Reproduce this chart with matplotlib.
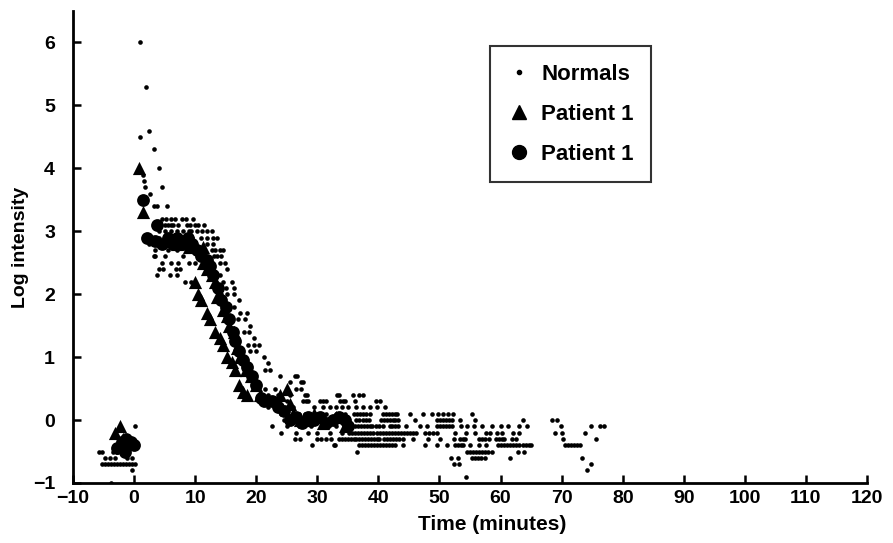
import matplotlib
matplotlib.use("Agg")
import matplotlib.pyplot as plt
from matplotlib.lines import Line2D

plt.rcParams['font.family'] = ['Liberation Sans', 'DejaVu Sans']

# ---------------- data ----------------
# Normals: rows of (log intensity, [time values])
rows_pre = [
    (-0.1, [0.2]),
    (-0.4, [0.2]),
    (-0.5, [-5.8, -5.3, -3.5, -2.8]),
    (-0.6, [-4.7, -3.9, -3.1, -1.2, -0.4]),
    (-0.7, [-5.3, -4.8, -4.3, -3.8, -3.3, -2.8, -2.3, -1.8, -1.3, -0.8, -0.3, 0.2]),
    (-0.8, [-0.4]),
    (-1.0, [-3.7]),
]

rows_peak = [
    (6.0, [1.0]),
    (5.3, [2.0]),
    (4.6, [2.5]),
    (4.5, [1.0]),
    (4.3, [3.3]),
    (4.0, [4.0]),
    (3.9, [1.5]),
    (3.8, [1.7]),
    (3.7, [1.8, 4.5]),
    (3.6, [2.6]),
    (3.4, [3.2, 3.7, 5.4]),
    (3.2, [4.5, 5.2, 6.0, 6.7, 7.8, 8.5, 9.7]),
    (3.1, [3.5, 4.2, 5.1, 5.6, 6.0, 6.4, 7.2, 8.6, 9.2, 10.0, 10.5, 11.5]),
    (3.0, [4.0, 5.0, 6.0, 7.0, 8.0, 9.0, 9.4, 10.3, 11.1, 11.9, 12.7]),
    (2.9, [3.0, 4.0, 5.0, 6.5, 8.0, 9.5, 11.0, 12.0, 13.0, 13.6]),
    (2.8, [2.5, 3.5, 5.0, 6.0, 7.0, 8.0, 9.0, 10.0, 12.0, 13.0]),
    (2.7, [3.5, 5.5, 7.0, 9.0, 11.0, 12.7, 13.3, 14.1, 14.6]),
    (2.6, [3.2, 3.4, 5.0, 8.0, 13.1, 13.6, 14.3]),
    (2.5, [4.5, 6.0, 7.2, 9.0, 10.0, 14.1, 14.9]),
    (2.4, [4.0, 4.8, 6.8, 7.6, 15.2]),
    (2.3, [3.7, 5.9, 7.0, 14.0]),
    (2.2, [8.4, 9.4, 14.6, 16.0]),
    (2.1, [15.0, 16.3]),
    (2.0, [14.3, 15.2, 16.3]),
    (1.9, [17.1]),
    (1.8, [15.5, 16.3]),
    (1.7, [17.4, 18.5]),
    (1.6, [17.0, 18.2]),
    (1.5, [19.0]),
    (1.4, [18.0, 18.8]),
    (1.3, [19.6]),
    (1.2, [18.7, 19.6, 20.4]),
    (1.1, [19.0, 19.9]),
    (1.0, [21.2]),
    (0.9, [22.0]),
    (0.8, [21.5, 22.3]),
    (0.7, [23.9, 26.3, 26.6]),
    (0.6, [25.5, 27.4, 27.7]),
    (0.5, [21.5, 23.0, 26.5, 27.3]),
]

rows_decay = [
    (0.4, [20.5, 22.0, 23.5, 25.5, 28.0, 28.3, 33.3, 33.5, 35.9, 36.8, 37.4]),
    (0.3, [21.0, 23.0, 25.0, 27.7, 28.1, 28.5, 30.5, 31.0, 31.4, 33.7, 34.2, 34.6,
           36.2, 39.6, 40.2]),
    (0.2, [22.0, 24.0, 26.0, 29.4, 31.0, 32.0, 33.0, 34.0, 35.0, 36.3, 37.4, 38.6,
           39.8, 41.1]),
    (0.1, [24.0, 25.0, 27.0, 28.0, 30.0, 31.5, 33.0, 34.5, 36.0, 36.5, 37.0, 37.5,
           38.0, 38.7, 40.7, 41.2, 41.7, 42.2, 42.7, 43.1, 45.2, 47.3, 48.8, 49.8,
           50.6, 51.4, 52.2, 55.3]),
    (0.0, [24.5, 26.0, 27.5, 29.0, 30.5, 32.0, 33.5, 35.0, 36.3, 36.8, 37.4, 37.9,
           38.5, 40.4, 40.9, 41.4, 41.9, 42.4, 42.8, 43.2, 46.0, 49.6, 50.1, 50.6,
           51.1, 51.6, 52.1, 53.4, 55.8, 63.7, 68.4, 69.3]),
]

rows_tail = [
    (-0.1, [22.6, 25.0, 27.0, 29.0, 31.0, 33.0, 35.7, 36.2, 36.7, 37.2, 37.7, 38.2,
            38.6, 39.0, 39.6, 40.1, 40.7, 41.9, 42.3, 42.7, 43.2, 44.6, 46.8, 48.0,
            49.6, 50.1, 50.6, 51.1, 51.5, 52.0, 53.6, 54.5, 55.6, 56.9, 58.6, 60.1,
            61.3, 63.1, 64.3, 69.9, 74.8, 76.3, 77.0]),
    (-0.2, [24.0, 26.5, 28.5, 30.0, 32.0, 34.0, 35.2, 35.7, 36.2, 36.7, 37.2, 37.7,
            38.2, 38.7, 39.2, 39.7, 40.2, 40.7, 41.2, 41.7, 42.2, 42.7, 43.2, 43.7,
            44.2, 44.7, 45.2, 45.7, 46.2, 47.7, 48.3, 49.0, 49.6, 52.6, 54.3, 55.8,
            57.7, 58.3, 59.4, 60.2, 62.0, 63.1, 68.9, 70.0, 73.9]),
    (-0.3, [26.3, 27.2, 30.0, 30.6, 31.4, 32.3, 33.5, 34.0, 34.5, 35.0, 35.5, 36.0,
            36.3, 36.8, 37.3, 37.8, 38.3, 38.8, 39.3, 39.8, 40.1, 40.9, 41.4, 41.9,
            42.4, 42.9, 43.4, 44.1, 45.7, 48.2, 50.1, 52.3, 53.4, 53.8, 54.2, 56.4,
            56.9, 57.5, 58.1, 59.2, 59.7, 60.2, 60.6, 61.9, 62.5, 70.2, 75.6]),
    (-0.4, [29.1, 32.7, 32.9, 36.8, 37.3, 37.8, 38.3, 38.8, 39.3, 39.8, 40.3, 40.8,
            41.3, 41.8, 42.3, 42.7, 44.1, 47.7, 49.6, 51.2, 52.6, 53.0, 53.5, 53.9,
            55.0, 56.4, 57.7, 59.6, 60.1, 60.6, 61.1, 61.6, 62.1, 62.6, 63.1, 63.6,
            64.1, 64.6, 65.0, 70.6, 71.1, 71.6, 72.1, 72.6, 73.0]),
    (-0.5, [36.5, 54.5, 55.0, 55.5, 56.0, 56.5, 57.0, 57.5, 58.0, 58.6, 62.8, 63.9]),
    (-0.6, [51.9, 53.0, 55.3, 55.8, 56.3, 56.8, 57.5, 61.6, 73.3]),
    (-0.7, [52.4, 53.2, 74.8]),
    (-0.8, [74.1]),
    (-0.9, [54.3]),
]

# Patient 1 (triangles)
tri_x = [-3.1, -2.3, -1.8,
         0.8, 1.5, 5.0, 7.0, 9.0, 10.0, 10.5, 11.0, 11.9, 12.5, 13.3, 14.0, 14.6,
         15.2, 16.0, 16.5, 17.1, 17.9, 18.5,
         11.3, 11.3, 12.0, 12.7, 13.3, 13.5, 14.6, 15.2, 15.5, 16.3, 16.8, 17.3,
         18.4, 19.2, 20.0, 20.6, 23.9, 25.0, 25.5, 26.1, 27.2, 28.3, 29.5, 31.0,
         33.0, 34.5]
tri_y = [-0.2, -0.1, -0.3,
         4.0, 3.3, 2.85, 2.8, 2.75, 2.2, 2.0, 1.9, 1.7, 1.6, 1.4, 1.3, 1.2,
         1.0, 0.93, 0.8, 0.55, 0.45, 0.4,
         2.75, 2.5, 2.4, 2.3, 2.2, 1.95, 1.75, 1.65, 1.5, 1.4, 1.15, 1.0,
         0.8, 0.7, 0.55, 0.4, 0.4, 0.5, 0.25, 0.1, 0.0, 0.0, 0.1, -0.05,
         0.05, -0.1]

# Patient 1 (circles)
circ_x = [-2.8, -2.0, -1.3, -0.5, 0.0, -1.5,
          1.4, 2.1, 3.7, 3.5, 4.5, 5.5, 6.3, 7.0, 8.0, 8.8, 9.5, 10.3, 11.0, 12.0,
          12.5, 13.0, 13.7, 14.3, 15.0, 15.6, 16.2, 16.6, 17.2, 17.8, 18.5, 19.3,
          20.0, 20.7, 21.3, 22.5, 23.5, 24.5, 25.5, 26.5, 27.5, 28.5, 29.5, 30.5,
          31.5, 32.5, 33.5, 34.5, 35.0]
circ_y = [-0.45, -0.35, -0.3, -0.35, -0.4, -0.5,
          3.5, 2.9, 3.1, 2.85, 2.8, 2.9, 2.8, 2.9, 2.8, 2.9, 2.8, 2.7, 2.6, 2.55,
          2.45, 2.3, 2.1, 1.9, 1.8, 1.6, 1.4, 1.25, 1.1, 0.95, 0.85, 0.7,
          0.55, 0.35, 0.3, 0.3, 0.2, 0.15, 0.0, 0.05, -0.05, 0.05, 0.0, 0.05,
          -0.05, 0.0, 0.05, 0.0, -0.1]

x_ticks = [-10, 0, 10, 20, 30, 40, 50, 60, 70, 80, 90, 100, 110, 120]
y_ticks = [-1, 0, 1, 2, 3, 4, 5, 6]

# ---------------- build normals table ----------------
norm_x, norm_y = [], []
for rows in (rows_pre, rows_peak, rows_decay, rows_tail):
    for yv, xs in rows:
        norm_x.extend(xs)
        norm_y.extend([yv] * len(xs))

# ---------------- figure ----------------
fig = plt.figure(figsize=(8.93, 5.43), dpi=100)
ax = fig.add_axes([73 / 893, 1 - 483 / 543, 794 / 893, 472 / 543])

ax.scatter(norm_x, norm_y, s=11, c='black', marker='o', linewidths=0, zorder=3)
ax.scatter(tri_x, tri_y, s=90, c='black', marker='^', linewidths=0, zorder=4)
ax.scatter(circ_x, circ_y, s=85, c='black', marker='o', linewidths=0, zorder=4)

ax.set_xlim(-10, 120)
ax.set_ylim(-1, 6.5)
ax.set_xticks(x_ticks)
ax.set_yticks(y_ticks)
ax.spines['top'].set_visible(False)
ax.spines['right'].set_visible(False)
for s in ('left', 'bottom'):
    ax.spines[s].set_linewidth(2.0)
ax.tick_params(direction='in', length=6, width=1.8, labelsize=14)
ax.tick_params(axis='x', pad=5)
ax.tick_params(axis='y', pad=13)
for lab in ax.get_xticklabels() + ax.get_yticklabels():
    lab.set_fontweight('bold')

ax.set_xlabel('Time (minutes)', fontsize=15, fontweight='bold')
ax.xaxis.set_label_coords(0.528, -0.068)
ax.set_ylabel('Log intensity', fontsize=14, fontweight='bold')
ax.yaxis.set_label_coords(-0.056, 0.5)

handles = [
    Line2D([], [], marker='o', color='black', linestyle='none', markersize=3),
    Line2D([], [], marker='^', color='black', linestyle='none', markersize=10),
    Line2D([], [], marker='o', color='black', linestyle='none', markersize=10),
]
leg = ax.legend(handles, ['Normals', 'Patient 1', 'Patient 1'],
                loc='upper left', bbox_to_anchor=((490 - 73) / 794, (483 - 46) / 472),
                frameon=True, fancybox=False, edgecolor='black',
                prop={'size': 16, 'weight': 'bold'},
                handlelength=1.0, handletextpad=0.5, labelspacing=0.85,
                borderpad=0.8, borderaxespad=0)
leg.get_frame().set_linewidth(1.5)

fig.savefig('out.png', dpi=100)
